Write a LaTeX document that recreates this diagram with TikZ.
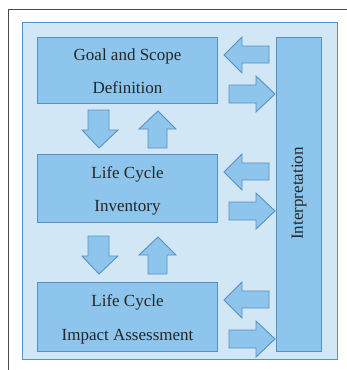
\documentclass[tikz,border=0pt]{standalone}
\usepackage{fontspec}
\setmainfont{Liberation Serif}
\definecolor{bglight}{HTML}{D2E7F6}
\definecolor{boxfill}{HTML}{8DC5EC}
\definecolor{boxline}{HTML}{5A90BF}
\definecolor{framegray}{HTML}{4A4A4A}
\tikzset{
  stagebox/.style={draw=boxline, fill=boxfill, line width=1pt, inner sep=0pt},
  blockarrow/.style={draw=boxline, fill=boxfill, line width=0.9pt, line join=miter},
  lbl/.style={inner sep=0pt, font=\fontsize{17}{20}\selectfont, text=black!85},
}
\begin{document}
\begin{tikzpicture}[x=1pt,y=-1pt]
\useasboundingbox (0,0) rectangle (347,370);
\clip (0,0) rectangle (347,370);
\fill[white] (0,0) rectangle (347,370);
% outer frame (only top and left visible)
\draw[framegray, line width=1pt] (8.5,9) rectangle (400,400);
% light background panel
\draw[draw=boxline, fill=bglight, line width=1pt] (22.5,22.5) rectangle (337.5,359);
% stage boxes
\node[stagebox, minimum width=180pt, minimum height=66pt, anchor=north west] (goal) at (37,37) {};
\node[stagebox, minimum width=180pt, minimum height=68pt, anchor=north west] (lci) at (37,154) {};
\node[stagebox, minimum width=180pt, minimum height=69pt, anchor=north west] (lcia) at (37,282) {};
\node[stagebox, minimum width=45pt, minimum height=314pt, anchor=north west] (interp) at (276,37) {};
% texts
\node[lbl, anchor=base] (goalA) at ([yshift=10pt]goal.center) {Goal and Scope};
\node[lbl, anchor=base] (goalB) at ([yshift=-23pt]goal.center) {Definition};
\node[lbl, anchor=base] (lciA) at ([yshift=10.5pt]lci.center) {Life Cycle};
\node[lbl, anchor=base] (lciB) at ([yshift=-23pt]lci.center) {Inventory};
\node[lbl, anchor=base] (lciaA) at ([yshift=10.5pt]lcia.center) {Life Cycle};
\node[lbl, anchor=base] (lciaB) at ([yshift=-23.5pt]lcia.center) {Impact Assessment};
\node[lbl, rotate=90] (interpT) at ([yshift=1pt]interp.center) {Interpretation};
% vertical block arrows
\foreach \t in {110,236}{
  \draw[blockarrow] (88,\t) -- (109,\t) -- (109,\t+20) -- (118,\t+20) -- (99,\t+38)
        -- (82,\t+20) -- (88,\t+20) -- cycle;
}
\foreach \t in {111,237}{
  \draw[blockarrow] (158,\t) -- (176,\t+18) -- (167,\t+18) -- (167,\t+37) -- (148,\t+37)
        -- (148,\t+18) -- (139,\t+18) -- cycle;
}
% horizontal block arrows
\foreach \T in {37,154,282}{
  \draw[blockarrow] (224,\T+18) -- (242,\T) -- (242,\T+9) -- (269,\T+9) -- (269,\T+26)
        -- (242,\T+26) -- (242,\T+36) -- cycle;
  \draw[blockarrow] (229,\T+48) -- (256,\T+48) -- (256,\T+39) -- (275,\T+57) -- (256,\T+75)
        -- (256,\T+66) -- (229,\T+66) -- cycle;
}
\end{tikzpicture}
\end{document}
